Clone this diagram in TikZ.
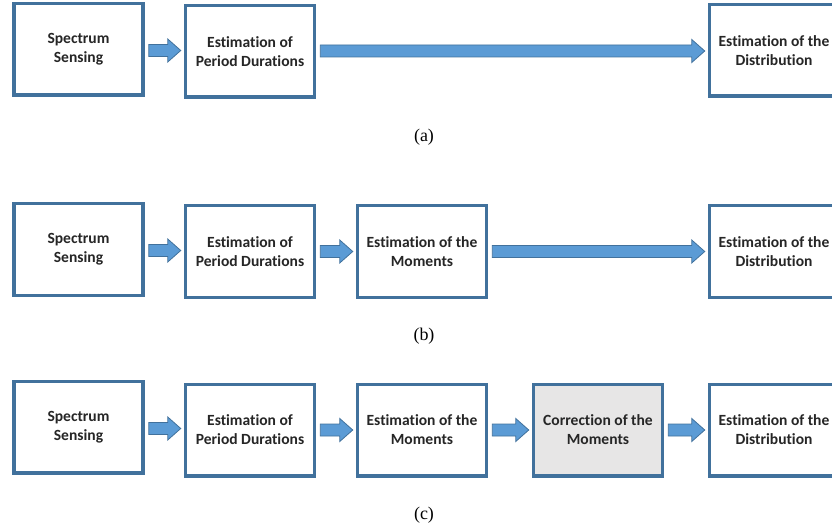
\documentclass[tikz,border=0pt]{standalone}
\usepackage{fontspec}
\setmainfont{Liberation Serif}
\newfontfamily\boxfont[Ligatures=NoCommon]{Carlito}
\usepackage{tikz}
\usetikzlibrary{calc,positioning}
\definecolor{boxblue}{HTML}{41719C}
\definecolor{arrowblue}{HTML}{5B9BD5}
\definecolor{boxgrey}{HTML}{E7E6E6}
\definecolor{boxtext}{HTML}{262626}
\tikzstyle{stage}=[
  draw=boxblue,line width=3.5bp,fill=white,minimum width=129bp,minimum height=91.5bp,
  align=center,text=boxtext,font=\boxfont\bfseries\fontsize{15.6}{19}\selectfont
]
\tikzstyle{corrstage}=[
  stage,fill=boxgrey
]
\tikzstyle{flow}=[
  draw=boxblue,line width=0.8bp,fill=arrowblue,line join=miter
]
\tikzstyle{caption}=[
  font=\fontsize{18}{20}\selectfont
]
% block arrow from one stage to the next
\newcommand{\flowarrow}[2]{%
  \path[flow] let \p1=($(#1.east)+(4bp,0)$), \p2=($(#2.west)+(-3bp,0)$),
    \n1={0.5*\y1+0.5*\y2} in
    (\x1,{\n1+6bp}) -- ({\x2-13bp},{\n1+6bp}) -- ({\x2-13bp},{\n1+11.5bp})
    -- (\x2,\n1) -- ({\x2-13bp},{\n1-11.5bp}) -- ({\x2-13bp},{\n1-6bp})
    -- (\x1,{\n1-6bp}) -- cycle;}

\begin{document}
\begin{tikzpicture}[x=1bp,y=-1bp]
    \useasboundingbox (0,0) rectangle (832,529);
    % (a)
    \node (sa) at (78.5,49.5) [stage] {Spectrum\\Sensing};
    \node (pa) at (250,51.5) [stage] {Estimation of\\Period Durations};
    \node (da) at (774,50.5) [stage] {Estimation of the\\Distribution};
    \flowarrow{sa}{pa}
    \flowarrow{pa}{da}
    \node (capa) at (424,137) [caption] {(a)};
    % (b)
    \node (sb) at (78.5,249.5) [stage] {Spectrum\\Sensing};
    \node (pb) at (250,251.5) [stage] {Estimation of\\Period Durations};
    \node (mb) at (422,251.5) [stage] {Estimation of the\\Moments};
    \node (db) at (774,251.5) [stage] {Estimation of the\\Distribution};
    \flowarrow{sb}{pb}
    \flowarrow{pb}{mb}
    \flowarrow{mb}{db}
    \node (capb) at (424,336) [caption] {(b)};
    % (c)
    \node (sc) at (78.5,427) [stage] {Spectrum\\Sensing};
    \node (pc) at (250,430) [stage] {Estimation of\\Period Durations};
    \node (mc) at (422,430) [stage] {Estimation of the\\Moments};
    \node (cc) at (598,430) [corrstage] {Correction of the\\Moments};
    \node (dc) at (774,430) [stage] {Estimation of the\\Distribution};
    \flowarrow{sc}{pc}
    \flowarrow{pc}{mc}
    \flowarrow{mc}{cc}
    \flowarrow{cc}{dc}
    \node (capc) at (424,515) [caption] {(c)};
\end{tikzpicture}
\end{document}
